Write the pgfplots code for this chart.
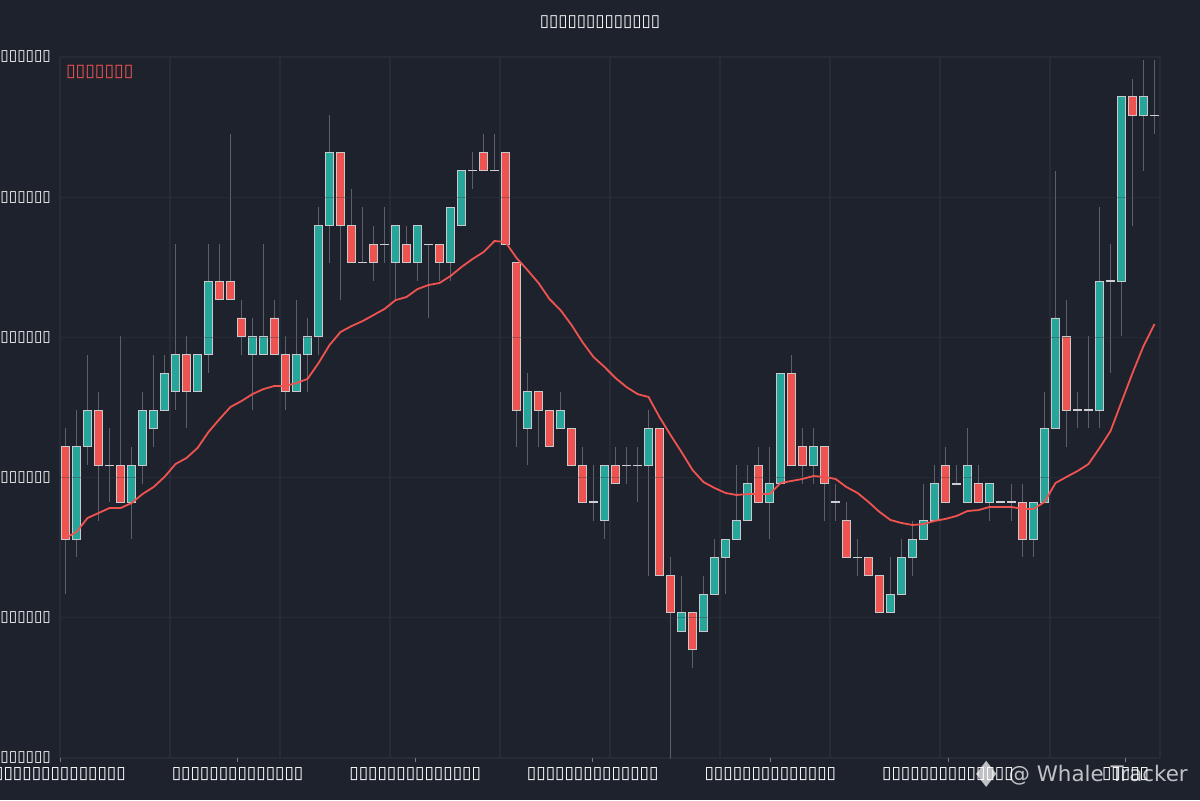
\documentclass[border=0pt]{standalone}
\usepackage{fontspec}
\usepackage{pgfplots}
\usepackage{pgfplotstable}
\pgfplotsset{compat=1.18}
\setmainfont{DejaVu Sans}
\newfontfamily\djv{DejaVu Sans}

\definecolor{bg}{HTML}{1E222D}
\definecolor{upc}{HTML}{26A69A}
\definecolor{dnc}{HTML}{EF5350}
\definecolor{gridc}{HTML}{363A45}
\definecolor{wickc}{HTML}{5D606B}
\definecolor{edgec}{HTML}{C8C8CD}
\definecolor{tickc}{HTML}{787B86}

\pgfplotstableread{
x o h l c ma
0 105 106 97 100 100.05
1 100 107 99 105 100.38
2 105 110 104 107 101.14
3 107 108 101 104 101.41
4 104 106 102 104 101.68
5 104 111 102 102 101.68
6 102 105 100 104 101.95
7 104 108 103 107 102.44
8 106 110 105 107 102.82
9 107 110 107 109 103.37
10 108 116 107 110 104.07
11 110 111 106 108 104.40
12 108 110 108 110 104.94
13 110 116 109 114 105.81
14 114 116 113 113 106.51
15 114 122 113 113 107.17
16 112 113 110 111 107.49
17 110 112 107 111 107.87
18 110 116 110 111 108.14
19 112 113 110 110 108.31
20 110 111 107 108 108.31
21 108 113 108 110 108.47
22 110 112 108 111 108.69
23 111 118 110 117 109.55
24 117 123 115 121 110.53
25 121 121 113 117 111.24
26 117 119 115 115 111.56
27 115 118 115 115 111.83
28 116 117 114 115 112.16
29 116 118 115 116 112.49
30 115 117 113 117 112.97
31 116 117 115 115 113.14
32 115 117 114 117 113.57
33 116 116 112 116 113.79
34 116 116 114 115 113.90
35 115 118 114 118 114.28
36 117 120 117 120 114.77
37 120 121 119 120 115.20
38 121 122 120 120 115.58
39 120 122 120 120 116.18
40 121 121 116 116 116.12
41 115 115 105 107 115.26
42 106 109 104 108 114.60
43 108 108 105 107 113.90
44 107 107 105 105 113.03
45 106 108 106 107 112.43
46 106 106 104 104 111.62
47 104 105 102 102 110.69
48 102 104 101 102 109.88
49 101 104 100 104 109.34
50 104 105 103 103 108.74
51 104 105 103 104 108.25
52 104 105 102 104 107.87
53 104 107 98 106 107.71
54 106 106 98 98 106.62
55 98 99 88 96 105.65
56 95 98 95 96 104.72
57 96 96 93 94 103.75
58 95 98 95 97 103.09
59 97 100 97 99 102.77
60 99 100 97 100 102.50
61 100 104 100 101 102.39
62 101 104 101 103 102.44
63 104 105 102 102 102.44
64 102 105 100 103 102.44
65 103 109 103 109 103.04
66 109 110 104 104 103.15
67 105 106 103 104 103.26
68 104 106 103 105 103.42
69 105 105 101 103 103.37
70 102 103 101 102 103.26
71 101 102 99 99 102.82
72 99 100 98 99 102.50
73 99 99 98 98 102.01
74 98 98 96 96 101.47
75 96 99 96 97 101.03
76 97 100 97 99 100.87
77 99 101 98 100 100.76
78 100 103 100 101 100.81
79 101 104 101 103 100.98
80 104 105 102 102 101.09
81 103 104 103 103 101.25
82 102 106 102 104 101.52
83 103 104 102 102 101.57
84 102 103 101 103 101.74
85 102 102 102 102 101.74
86 102 103 101 102 101.74
87 102 103 99 100 101.63
88 100 102 99 102 101.63
89 102 108 102 106 102.01
90 106 120 106 112 103.04
91 111 113 105 107 103.37
92 107 108 106 107 103.69
93 107 111 106 107 104.07
94 107 118 106 114 104.94
95 114 116 109 114 105.86
96 114 124 111 124 107.44
97 124 125 117 123 109.01
98 123 126 120 124 110.48
99 123 126 122 123 111.67
}\candles

\pgfplotsset{
  candleaxis/.style={
    scale only axis, width=792pt, height=504.72pt,
    at={(43.2pt,30.24pt)}, anchor=south west,
    xmin=-0.501, xmax=99.501, ymin=88.109, ymax=126.171,
  },
}

\begin{document}
\begin{tikzpicture}[x=1pt,y=1pt]
\fill[bg] (0,0) rectangle (864,576);
\useasboundingbox (0,0) rectangle (864,576);

% wicks
\begin{axis}[candleaxis, hide axis]
\addplot[draw=none, mark=none, forget plot,
  error bars/.cd, y dir=both, y explicit, error mark=none,
  error bar style={draw=wickc, line width=0.6pt}]
  table[x=x, y=c, y error plus expr=\thisrow{h}-\thisrow{c},
        y error minus expr=\thisrow{c}-\thisrow{l}] {\candles};
\end{axis}

% bodies
\begin{axis}[candleaxis, hide axis, ybar stacked, bar width=0.78]
\addplot[fill=none, draw=none] table[x=x, y expr={min(\thisrow{o},\thisrow{c})}] {\candles};
\addplot[fill=upc, draw=edgec, line width=0.7pt] table[x=x, y expr={max(\thisrow{c}-\thisrow{o},0)}] {\candles};
\addplot[fill=dnc, draw=edgec, line width=0.7pt] table[x=x, y expr={max(\thisrow{o}-\thisrow{c},0)}] {\candles};
\end{axis}

% doji (open = close)
\begin{axis}[candleaxis, hide axis, unbounded coords=discard]
\addplot[only marks, mark=-, mark size=3.2pt, mark options={draw=edgec!90!white, line width=1.1pt}]
  table[x=x, y expr={ifthenelse(\thisrow{o}==\thisrow{c},\thisrow{c},nan)}] {\candles};
\end{axis}

% grid, ticks, moving average
\begin{axis}[candleaxis,
  axis line style={draw=none},
  ymajorgrids, xmajorgrids=false, xminorgrids,
  minor xtick={-0.5,9.5,19.5,29.5,39.5,49.5,59.5,69.5,79.5,89.5,99.5},
  xtick={-0.5,15.645,31.79,47.935,64.08,80.225,96.37},
  xticklabels={▯▯▯▯▯▯▯▯▯▯▯▯▯▯,▯▯▯▯▯▯▯▯▯▯▯▯▯▯,▯▯▯▯▯▯▯▯▯▯▯▯▯▯,▯▯▯▯▯▯▯▯▯▯▯▯▯▯,▯▯▯▯▯▯▯▯▯▯▯▯▯▯,▯▯▯▯▯▯▯▯▯▯▯▯▯▯,▯▯▯▯▯},
  ytick={88.11,95.722,103.334,110.946,118.558,126.17},
  yticklabels={▯▯▯▯▯▯,▯▯▯▯▯▯,▯▯▯▯▯▯,▯▯▯▯▯▯,▯▯▯▯▯▯,▯▯▯▯▯▯},
  grid style={draw=gridc, draw opacity=0.38, line width=0.75pt},
  minor grid style={draw=gridc, draw opacity=0.38, line width=0.75pt},
  tick align=outside, major tick length=3pt, minor tick length=0pt,
  xtick style={draw=tickc, line width=0.6pt},
  ytick style={draw=none},
  xtick pos=bottom, ytick pos=left,
  xticklabel style={font=\djv\fontsize{12.3}{14}\selectfont, text=white},
  yticklabel style={font=\djv\fontsize{11}{13}\selectfont, text=white},
]
\addplot[draw=dnc, line width=1.3pt, mark=none] table[x=x, y=ma] {\candles};
\node[anchor=west, inner sep=0pt, text=dnc, font=\djv\fontsize{12.6}{14}\selectfont]
  at (rel axis cs:0.0052,0.978) {▯▯▯▯▯▯▯};
\end{axis}

% title
\node[text=white, font=\djv\fontsize{12.1}{14}\selectfont, inner sep=0pt] at (432,560.0) {▯▯▯▯▯▯▯▯▯▯▯▯▯};

% watermark
\node[text=white, opacity=0.72, font=\djv\fontsize{26}{28}\selectfont, inner sep=0pt] at (710.6,18.7) {♦};
\node[text=white, opacity=0.72, font=\djv\fontsize{15.4}{17}\selectfont, inner sep=0pt, anchor=base west] at (726,13) {@ Whale Tracker};
\end{tikzpicture}
\end{document}
